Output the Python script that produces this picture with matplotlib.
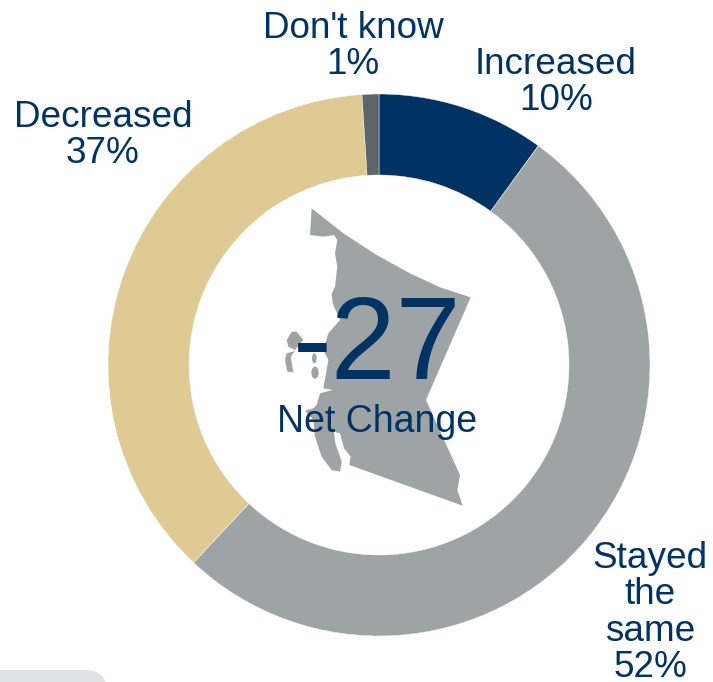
"""Donut chart of reported change with the BC map behind the net figure."""
import matplotlib
matplotlib.use("Agg")
import matplotlib.pyplot as plt
from matplotlib.patches import Ellipse, FancyBboxPatch, Polygon

W, H = 713, 682

categories = ["Increased", "Stayed\nthe\nsame", "Decreased", "Don't know"]
values = [10, 52, 37, 1]
net_change = -27

NAVY = "#003263"
GREY = "#9EA3A5"
colors = [NAVY, GREY, "#DFCA94", "#5F6468"]

plt.rcParams["font.family"] = ["Liberation Sans", "DejaVu Sans"]

fig = plt.figure(figsize=(W / 100, H / 100), dpi=100)
ax = fig.add_axes([0, 0, 1, 1])

ax.pie(values, colors=colors, startangle=90, counterclock=False,
       center=(379, H - 365), radius=271, frame=True,
       wedgeprops=dict(width=81, edgecolor="white", linewidth=0.3))
ax.set_xlim(0, W)
ax.set_ylim(0, H)
ax.set_aspect("equal")
ax.axis("off")


def zoom_pt(x, y):
    # traced the outline from a 3x crop starting at (260, 190)
    return (260 + x / 3, H - (190 + y / 3))


# mainland and Vancouver Island drawn as one shape, the channel is only a short sliver
mainland = [
    (155, 55), (250, 130), (350, 195), (450, 250), (540, 292), (632, 322),
    (498, 630), (600, 855), (592, 900), (608, 947), (268, 825), (272, 800),
    (252, 775), (240, 730), (222, 725), (226, 760), (245, 815), (240, 845),
    (215, 840), (185, 800), (165, 740), (160, 690), (135, 662), (160, 655),
    (170, 645), (180, 610), (218, 600), (190, 595), (205, 510), (190, 480),
    (205, 430), (240, 390), (218, 340), (215, 310), (225, 290), (232, 230),
    (225, 190), (232, 150), (222, 135), (190, 140), (150, 135),
]
haida_north = [(80, 450), (95, 425), (110, 425), (130, 450), (105, 480), (85, 470)]
haida_south = [(80, 490), (105, 483), (92, 500), (100, 547), (82, 545), (75, 510)]

for shape in [mainland, haida_north, haida_south]:
    ax.add_patch(Polygon([zoom_pt(x, y) for x, y in shape], closed=True,
                         facecolor=GREY, edgecolor="none"))
for cx, cy, w, h in [(163, 505, 14, 30), (165, 548, 22, 36)]:
    ax.add_patch(Ellipse(zoom_pt(cx, cy), w / 3, h / 3, facecolor=GREY, edgecolor="none"))

# rounded tab cut off by the bottom left corner
ax.add_patch(FancyBboxPatch((-40, -40), 147, 52,
                            boxstyle="round,pad=0,rounding_size=22",
                            facecolor="#E0E2E3", edgecolor="none"))

# x centre and baseline of the last line of each label
label_pos = [(556, 110), (650, 677), (103, 163), (353, 74)]
for name, val, (x, y) in zip(categories, values, label_pos):
    ax.text(x, H - y, f"{name}\n{val}%", ha="center", va="baseline",
            fontsize=26.6, color=NAVY, linespacing=1.05)

ax.text(377, H - 379, str(net_change), ha="center", va="baseline", fontsize=84, color=NAVY)
ax.text(377, H - 432, "Net Change", ha="center", va="baseline", fontsize=27, color=NAVY)

fig.savefig("out.png", dpi=100)
plt.close(fig)
